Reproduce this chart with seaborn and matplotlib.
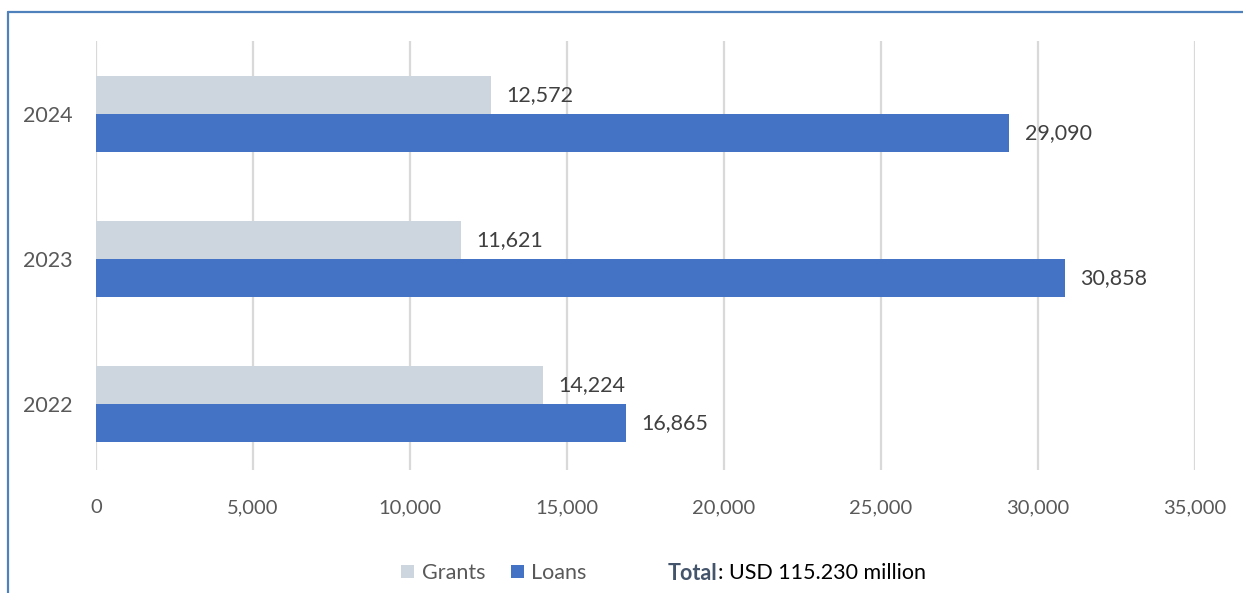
import matplotlib
matplotlib.use("Agg")
import matplotlib.pyplot as plt
import seaborn as sns
import pandas as pd
from matplotlib.lines import Line2D
from matplotlib.patches import Patch

years = ["2024", "2023", "2022"]
grants = [12572, 11621, 14224]
loans = [29090, 30858, 16865]
series = ["Grants", "Loans"]
colors = ["#CDD5DF", "#4472C4"]
xticks = [0, 5000, 10000, 15000, 20000, 25000, 30000, 35000]

df = pd.DataFrame({
    "Year": years * 2,
    "Value": grants + loans,
    "Type": ["Grants"] * 3 + ["Loans"] * 3,
})

sns.set_theme(style="white")
plt.rcParams["font.family"] = ["Lato", "DejaVu Sans"]

W, H = 1243, 593
fig = plt.figure(figsize=(W / 100, H / 100), dpi=100)
ax = fig.add_axes([96 / W, 1 - 470 / H, (1195 - 96) / W, (470 - 41) / H])

sns.barplot(data=df, x="Value", y="Year", hue="Type", order=years,
            hue_order=series, palette=colors, orient="h", width=0.524,
            gap=0, ax=ax, legend=False, saturation=1, linewidth=0)

ax.set_xlim(0, 35000)
ax.set_ylim(2.455, -0.503)
ax.set_xticks(xticks)
ax.set_xticklabels([f"{v:,}" for v in xticks])
ax.xaxis.grid(True, color="#D9D9D9", linewidth=1.6)
ax.set_axisbelow(True)
for s in ax.spines.values():
    s.set_visible(False)
ax.set_xlabel("")
ax.set_ylabel("")
ax.tick_params(axis="x", colors="#595959", labelsize=14.5, length=0, pad=21)
ax.tick_params(axis="y", colors="#595959", labelsize=15.5, length=0, pad=17)

for cont in ax.containers:
    ax.bar_label(cont, labels=[f"{v:,.0f}" for v in cont.datavalues],
                 padding=11, fontsize=15.5, color="#404040")

# legend
handles = [Patch(facecolor=c, edgecolor="none") for c in colors]
leg = fig.legend(handles, series, loc="center", bbox_to_anchor=(494 / W, 1 - 573 / H),
                 ncol=2, frameon=False, fontsize=15.5, handlelength=0.6, handleheight=0.6,
                 handletextpad=0.35, columnspacing=1.2, labelcolor="#595959")

t1 = fig.text(668 / W, 1 - 573 / H, "Total", fontsize=15.5, fontweight="bold",
              color="#44546A", va="center", ha="left")
fig.canvas.draw()
bb = t1.get_window_extent()
fig.text(bb.x1 / W, 1 - 573 / H, ": USD 115.230 million", fontsize=15.5,
         color="#000000", va="center", ha="left")

# frame lines (top and left)
fig.add_artist(Line2D([8 / W, 1], [1 - 12 / H, 1 - 12 / H], color="#4F81BD", linewidth=1.6,
                      transform=fig.transFigure))
fig.add_artist(Line2D([8 / W, 8 / W], [1 - 12 / H, 0], color="#4F81BD", linewidth=1.6,
                      transform=fig.transFigure))

fig.savefig("out.png", dpi=100, facecolor="white")
